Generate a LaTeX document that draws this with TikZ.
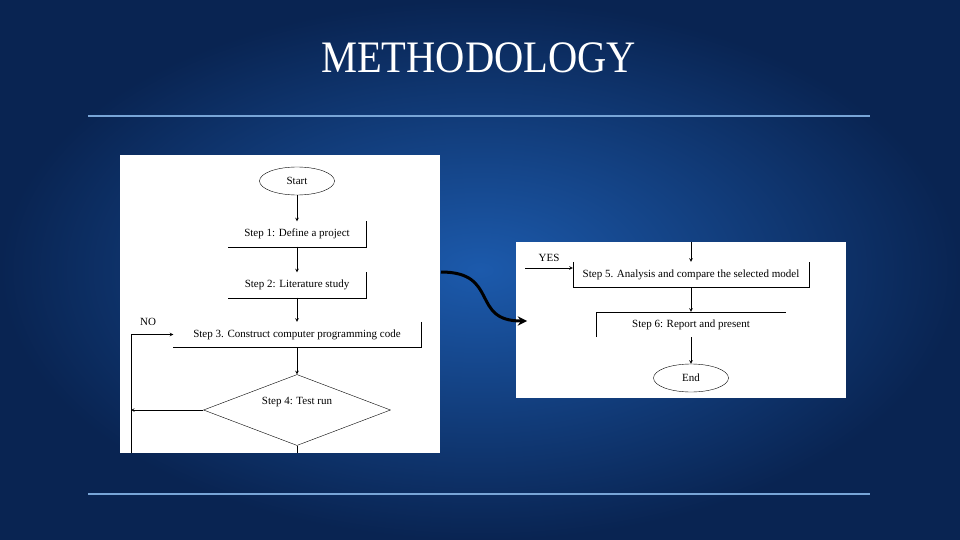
\documentclass[tikz,border=0pt]{standalone}
\usepackage{fontspec}
\setmainfont{Liberation Serif}
\usepackage{tikz}
\usetikzlibrary{shapes,shapes.geometric}
\usetikzlibrary{arrows}
\usetikzlibrary{positioning}
\definecolor{slidedark}{RGB}{9,36,82}
\definecolor{slidelight}{RGB}{28,90,172}
\definecolor{sliderule}{RGB}{120,165,215}

\begin{document}
\begin{tikzpicture}[x=1pt, y=-1pt, node font=\fontsize{11}{13}\selectfont,
		terminal/.style={ellipse, draw, minimum width=75pt, minimum height=28pt, inner sep=0pt},
		stepbox/.style={minimum height=25pt, inner sep=0pt},
		decision/.style={diamond, draw, minimum width=187pt, minimum height=71pt, inner sep=0pt},
		flow/.style={-stealth, line width=0.6pt}]
			\useasboundingbox (0,0) rectangle (960,540);
			\shade[inner color=slidelight, outer color=slidedark] (0,0) rectangle (960,540);
			\node[white, anchor=base, xscale=0.9, font=\fontsize{45}{45}\selectfont] (title) at (478.5,73) {METHODOLOGY};
			\draw[sliderule, line width=2pt] (88,116) -- (870,116);
			\draw[sliderule, line width=2pt] (88,494) -- (870,494);
			\fill[white] (120,155) rectangle (440,453);
			\fill[white] (516,242) rectangle (846,398);
			\node[terminal] (start) at (297,181) {Start};
			\node[stepbox, minimum width=137pt] (s1) at (297,234) {Step 1: Define a project};
			\node[stepbox, minimum width=137pt] (s2) at (297,285) {Step 2: Literature study};
			\node[stepbox, minimum width=247pt] (s3) at (297,334.5) {Step 3. Construct computer programming code};
			\node[decision, label={[yshift=8pt]center:Step 4: Test run}] (s4) at (297,410) {};
			\node (no) at (148,322) {NO};
			\coordinate (s4out) at (297,453);
			\coordinate (loopbot) at (131,453);
			\draw (s1.north east) -- (s1.south east) -- (s1.south west);
			\draw (s2.north east) -- (s2.south east) -- (s2.south west);
			\draw (s3.north east) -- (s3.south east) -- (s3.south west);
			\draw[flow] (start) -- (s1);
			\draw[flow] (s1) -- (s2);
			\draw[flow] (s2) -- (s3);
			\draw[flow] (s3) -- (s4);
			\draw[line width=0.6pt] (s4.south) -- (s4out);
			\draw[flow] (s4.west) -- (s4.west -| loopbot);
			\draw[flow] (loopbot) |- (s3.west);
			\coordinate (s5in) at (691,242);
			\coordinate (yesin) at (525,268);
			\node[stepbox, minimum width=236pt] (s5) at (691,274.5) {Step 5. Analysis and compare the selected model};
			\node[stepbox, minimum width=190pt] (s6) at (691,324.5) {Step 6: Report and present};
			\node[terminal] (end) at (691,378) {End};
			\node (yes) at (549,258) {YES};
			\draw (s5.north west) -- (s5.south west) -- (s5.south east) -- (s5.north east);
			\draw (s6.south west) -- (s6.north west) -- (s6.north east);
			\draw[flow] (s5in) -- (s5);
			\draw[flow] (yesin) -- (yesin -| s5.west);
			\draw[flow] (s5) -- (s6);
			\draw[flow] (s6) -- (end);
			\coordinate (jumpfrom) at (441,272);
			\coordinate (jumpto) at (527,321);
			\draw[-stealth, line width=3pt] (jumpfrom) .. controls (500,272) and (470,321) .. (jumpto);
		\end{tikzpicture}
\end{document}
